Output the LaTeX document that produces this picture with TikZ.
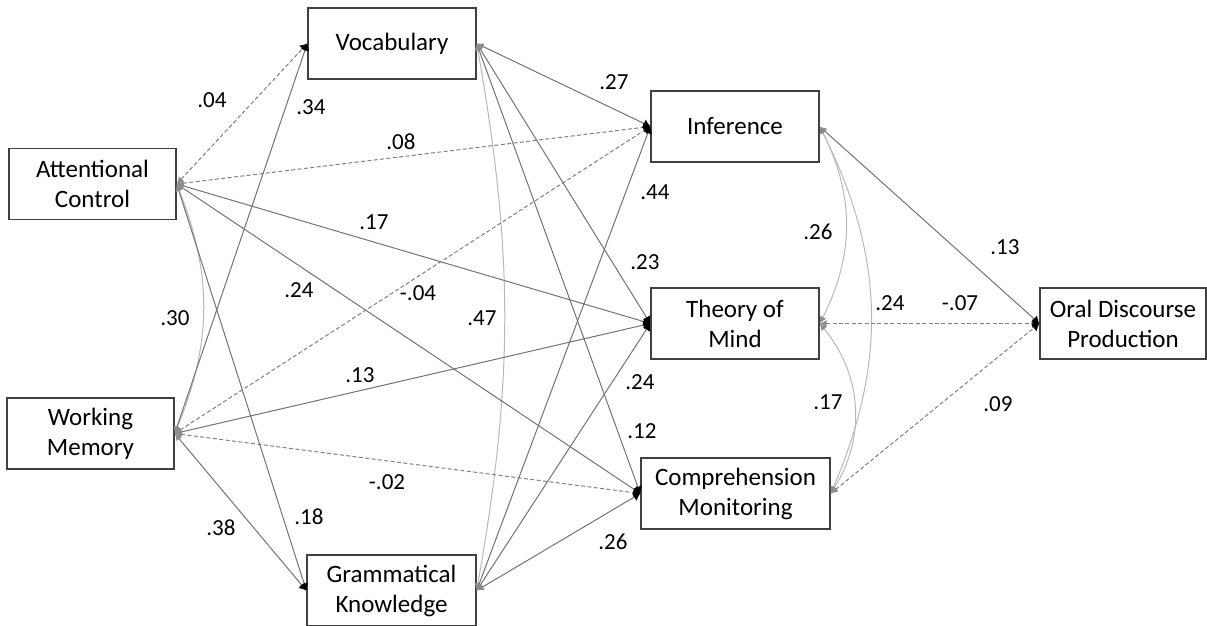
\documentclass[tikz,border=0pt]{standalone}
\usepackage{fontspec}
\setmainfont{Carlito}
\usetikzlibrary{arrows.meta}
\tikzset{
  var/.style={draw=black!75, line width=0.7pt, fill=white, minimum height=35.5pt, align=center, inner sep=0pt, font=\fontsize{12.5}{15}\selectfont},
  effect/.style={draw=black!55, line width=0.5pt, {Latex[length=3.5pt,width=3.5pt,color=black!45]}-{Latex[length=3.5pt,width=4.5pt,color=black]}},
  weak/.style={effect, draw=black!50, dash pattern=on 2pt off 1.2pt},
  corr/.style={draw=black!28, line width=0.5pt, {Latex[length=3.5pt,width=3.5pt,color=black!45]}-{Latex[length=3.5pt,width=3.5pt,color=black!45]}},
  coef/.style={inner sep=0pt, font=\fontsize{11.5}{13}\selectfont}
}
\begin{document}
\begin{tikzpicture}[x=0.5pt,y=-0.5pt]
  \useasboundingbox (0,0) rectangle (1207,626);

  % variables
  \node[var, minimum width=84pt]   (voc) at (392,43.5)   {Vocabulary};
  \node[var, minimum width=83.5pt] (ac)  at (92.5,184)   {Attentional\\Control};
  \node[var, minimum width=83.5pt] (wm)  at (90.5,433.5) {Working\\Memory};
  \node[var, minimum width=84.5pt] (gk)  at (391.5,590.5) {Grammatical\\Knowledge};
  \node[var, minimum width=84pt]   (inf) at (735,126.5)  {Inference};
  \node[var, minimum width=84pt]   (tom) at (735,323.5)  {Theory of\\Mind};
  \node[var, minimum width=94.5pt] (cm)  at (735.5,493.5) {Comprehension\\Monitoring};
  \node[var, minimum width=83pt]   (odp) at (1123,323.5) {Oral Discourse\\Production};

  % correlations
  \draw[corr] (ac.east) to[bend left=22] (wm.east);
  \draw[corr] (voc.east) to[bend left=10] (gk.east);
  \draw[corr] (inf.east) to[bend left=27] (tom.east);
  \draw[corr] (inf.east) to[bend left=25] (cm.east);
  \draw[corr] (tom.east) to[bend left=36] (cm.east);

  % predictors to language
  \draw[weak]   (ac.east) -- (voc.west);
  \draw[effect] (wm.east) -- (voc.west);
  \draw[effect] (ac.east) -- (gk.west);
  \draw[effect] (wm.east) -- (gk.west);

  % predictors to higher-order skills
  \draw[weak]   (ac.east) -- (inf.west);
  \draw[effect] (ac.east) -- (tom.west);
  \draw[effect] (ac.east) -- (cm.west);
  \draw[weak]   (wm.east) -- (inf.west);
  \draw[effect] (wm.east) -- (tom.west);
  \draw[weak]   (wm.east) -- (cm.west);

  % language to higher-order skills
  \draw[effect] (voc.east) -- (inf.west);
  \draw[effect] (voc.east) -- (tom.west);
  \draw[effect] (voc.east) -- (cm.west);
  \draw[effect] (gk.east) -- (inf.west);
  \draw[effect] (gk.east) -- (tom.west);
  \draw[effect] (gk.east) -- (cm.west);

  % to outcome
  \draw[effect] (inf.east) -- (odp.west);
  \draw[weak]   (tom.east) -- (odp.west);
  \draw[weak]   (cm.east) -- (odp.west);

  % coefficients
  \node[coef] (c1)  at (212,100)  {.04};
  \node[coef] (c2)  at (311,107)  {.34};
  \node[coef] (c3)  at (401,142)  {.08};
  \node[coef] (c4)  at (374,222)  {.17};
  \node[coef] (c5)  at (299,290)  {.24};
  \node[coef] (c6)  at (418,293)  {-.04};
  \node[coef] (c7)  at (175,318)  {.30};
  \node[coef] (c8)  at (360,375)  {.13};
  \node[coef] (c9)  at (387,482)  {-.02};
  \node[coef] (c10) at (221,528)  {.38};
  \node[coef] (c11) at (309,517)  {.18};
  \node[coef] (c12) at (614,82)   {.27};
  \node[coef] (c13) at (655,192)  {.44};
  \node[coef] (c14) at (645,262)  {.23};
  \node[coef] (c15) at (482,318)  {.47};
  \node[coef] (c16) at (640,382)  {.24};
  \node[coef] (c17) at (642,431)  {.12};
  \node[coef] (c18) at (613,542)  {.26};
  \node[coef] (c19) at (818,232)  {.26};
  \node[coef] (c20) at (890,303)  {.24};
  \node[coef] (c21) at (960,303)  {-.07};
  \node[coef] (c22) at (1005,247) {.13};
  \node[coef] (c23) at (828,402)  {.17};
  \node[coef] (c24) at (998,404)  {.09};
\end{tikzpicture}
\end{document}
